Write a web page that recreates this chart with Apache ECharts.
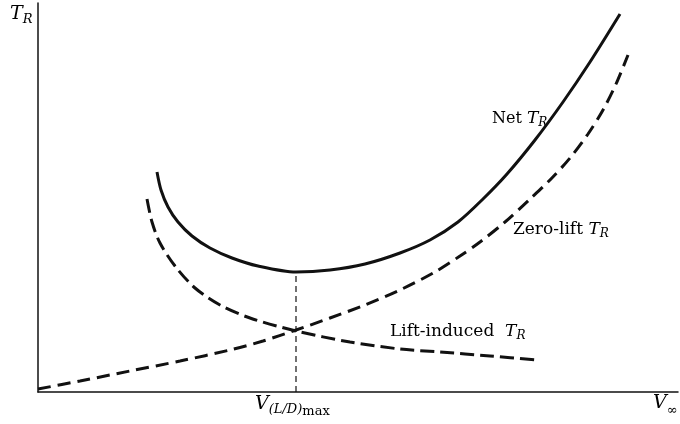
<!DOCTYPE html>
<html><head><meta charset="utf-8">
<script src="https://cdn.jsdelivr.net/npm/echarts@6/dist/echarts.min.js"></script>
<style>html,body{margin:0;padding:0;background:#fff}#c{width:680px;height:424px}</style>
</head><body><div id="c"></div>
<script>
// Velocity (arbitrary units) vs thrust required (arbitrary units)
const netV   = [119,123,130,140,154,172,194,220,258,292,327,362,392,420,445,469,497,525,552,582];
const netT   = [220,202,185,170,156,144,134,126,120,122,128,139,152,170,193,218,252,290,330,378];
const zeroV  = [0,42,92,142,192,225,258,292,327,362,397,422,442,467,492,512,532,550,565,578,590];
const zeroT  = [3,11,21,31,42,51,62,74,87,102,120,136,150,170,193,212,234,258,282,308,337];
const liftV  = [109,114,122,137,157,182,212,258,312,362,402,452,499];
const liftT  = [193,170,149,126,104,87,74,61,50,43,40,36,32];
const vLDmax = 258;
const tMin   = 120;

const zip = (a,b)=>a.map((v,i)=>[v,b[i]]);
const serif = '"DejaVu Serif", "Liberation Serif", serif';
const rich = {
  n:{fontFamily:serif,fontSize:16,color:'#111'},
  N:{fontFamily:serif,fontSize:17,color:'#111'},
  i:{fontFamily:serif,fontSize:17,fontStyle:'italic',color:'#111'},
  I:{fontFamily:serif,fontSize:19,fontStyle:'italic',color:'#111'},
  s:{fontFamily:serif,fontSize:12,fontStyle:'italic',color:'#111',padding:[9,0,0,0]},
  S:{fontFamily:serif,fontSize:13,fontStyle:'italic',color:'#111',padding:[10,0,0,0]},
  m:{fontFamily:serif,fontSize:13,color:'#111',padding:[15,0,0,0]}
};
const chart = echarts.init(document.getElementById('c'));
chart.setOption({
  animation:false,
  grid:{left:38,right:2,top:3,bottom:32},
  xAxis:{type:'value',min:0,max:640,axisLabel:{show:false},axisTick:{show:false},splitLine:{show:false},
    axisLine:{lineStyle:{color:'#111',width:1.5}}},
  yAxis:{type:'value',min:0,max:389,axisLabel:{show:false},axisTick:{show:false},splitLine:{show:false},
    axisLine:{show:true,lineStyle:{color:'#111',width:1.5}}},
  series:[
    {type:'line',data:zip(netV,netT),smooth:0.3,showSymbol:false,lineStyle:{color:'#111',width:3}},
    {type:'line',data:zip(zeroV,zeroT),smooth:0.3,showSymbol:false,lineStyle:{color:'#111',width:3,type:[13,7]}},
    {type:'line',data:zip(liftV,liftT),smooth:0.3,showSymbol:false,lineStyle:{color:'#111',width:3,type:[14,6]}},
    {type:'line',data:[[vLDmax,0],[vLDmax,tMin]],showSymbol:false,lineStyle:{color:'#111',width:1.2,type:[6,4]}}
  ],
  graphic:[
    {type:'text',left:10,top:5,style:{text:'{I|T}{S|R}',rich}},
    {type:'text',left:492,top:110,style:{text:'{n|Net }{i|T}{s|R}',rich}},
    {type:'text',left:513,top:221,style:{text:'{N|Zero-lift }{i|T}{s|R}',rich}},
    {type:'text',left:390,top:323,style:{text:'{N|Lift-induced  }{i|T}{s|R}',rich}},
    {type:'text',left:255,top:395,style:{text:'{I|V}{S|(L/D)}{m|max}',rich}},
    {type:'text',left:653,top:394,style:{text:'{I|V}{m|∞}',rich}}
  ]
});
</script></body></html>
